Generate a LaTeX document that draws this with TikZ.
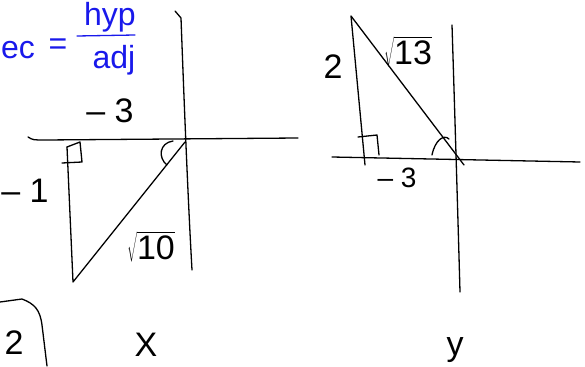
\documentclass[tikz,border=0pt]{standalone}
\usepackage{fontspec}
\setmainfont{Liberation Sans}
\usetikzlibrary{calc}
\definecolor{pen}{RGB}{25,25,235}

\begin{document}
\begin{tikzpicture}[x=1pt,y=-1pt,line width=1.3pt,line cap=round,line join=round,
    lbl/.style={inner sep=0pt,font=\fontsize{34}{34}\selectfont},
    small/.style={inner sep=0pt,font=\fontsize{28}{28}\selectfont},
    note/.style={inner sep=0pt,text=pen,font=\fontsize{32}{32}\selectfont}]
        \useasboundingbox (0,0) rectangle (585,366);

        % sec = hyp / adj
        \node[note] (ec) at (18,50) {ec};
        \node[note] (eq) at (58,47) {=};
        \node[note] (hyp) at (110,17) {hyp};
        \node[note] (adj) at (114,60) {adj};
        \coordinate (barL) at (77,36);
        \coordinate (barR) at (135,35);
        \draw[pen] (barL) -- (barR);

        % left graph (x)
        \coordinate (xaL) at (28,137);
        \coordinate (xaR) at (298,138);
        \coordinate (yaT) at (175,11);
        \coordinate (yaB) at (192,270);
        \coordinate (O1) at (185,142);
        \coordinate (A1) at (67,147);
        \coordinate (B1) at (73,282);

        \draw (xaL) .. controls (33,140) .. (45,140) -- (xaR);
        \draw (yaT) -- (181,18) .. controls (184,100) and (188,200) .. (yaB);
        \draw (A1) -- (B1) -- (O1);
        \draw (A1) -- (80,142) -- (82,162) -- (62,163); % right angle
        \draw (173,141) .. controls (159,143) and (158,158) .. (167,165);

        \node[lbl] (m3a) at (110,111) {– 3};
        \node[lbl] (m1) at (25,191) {– 1};
        \node[lbl] (r10) at (151,247) {$\sqrt{\mbox{10}}$};

        % right graph (y)
        \coordinate (xbL) at (332,157);
        \coordinate (xbR) at (580,162);
        \coordinate (ybT) at (452,25);
        \coordinate (ybB) at (460,292);
        \coordinate (A2) at (351,16);
        \coordinate (B2) at (365,165);
        \coordinate (O2) at (464,165);

        \draw (xbL) -- (xbR);
        \draw (ybT) .. controls (455,120) and (458,220) .. (ybB);
        \draw (B2) -- (A2) -- (O2);
        \draw (358,137) -- (377,135) -- (379,155); % right angle
        \draw (432,155) .. controls (435,140) and (444,134) .. (449,139);

        \node[lbl] (two) at (333,67) {2};
        \node[lbl] (r13) at (408,52) {$\sqrt{\mbox{13}}$};
        \node[small] (m3b) at (397,178) {– 3};

        % bottom row
        \coordinate (brA) at (0,302);
        \coordinate (brB) at (47,366);
        \draw (brA) -- (22,299) .. controls (35,304) and (40,310) .. (42,325) -- (brB);
        \node[lbl] (num) at (14,343) {2};
        \node[lbl] (vx) at (146,345) {X};
        \node[lbl] (vy) at (455,350) {y};
    \end{tikzpicture}
\end{document}
